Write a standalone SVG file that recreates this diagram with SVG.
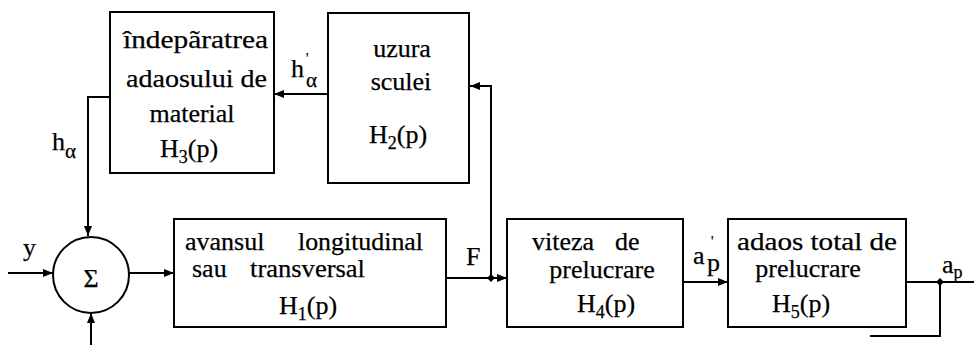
<svg xmlns="http://www.w3.org/2000/svg" width="974" height="345" viewBox="0 0 974 345">
  <style>
    .box { fill: #fff; stroke: #000; stroke-width: 2; }
    .wire { fill: none; stroke: #000; stroke-width: 2; }
    .t { font-family: "Liberation Serif", "Times New Roman", serif; font-size: 26px; fill: #000; stroke: #000; stroke-width: 0.25; }
    .sub { font-size: 18px; }
    .lbl { font-family: "Liberation Serif", "Times New Roman", serif; font-size: 26px; fill: #000; stroke: #000; stroke-width: 0.25; }
    .lsub { font-size: 21px; }
    .prime { font-size: 14px; }
  </style>
  <defs>
    <marker id="arr" viewBox="0 0 10 8" refX="10" refY="4" markerWidth="10" markerHeight="8" markerUnits="userSpaceOnUse" orient="auto">
      <path d="M0,0 L10,4 L0,8 Z" fill="#000"/>
    </marker>
  </defs>
  <rect width="974" height="345" fill="#fff"/>

  <!-- connectors -->
  <g id="connectors">
    <!-- h'α : H2 -> H3 -->
    <line class="wire" x1="328" y1="94" x2="274" y2="94" marker-end="url(#arr)"/>
    <!-- hα : H3 -> summing junction (top) -->
    <polyline class="wire" points="110,97 88,97 88,236" marker-end="url(#arr)"/>
    <!-- y input -->
    <line class="wire" x1="8" y1="273" x2="53" y2="273" marker-end="url(#arr)"/>
    <!-- bottom input -->
    <line class="wire" x1="91" y1="345" x2="91" y2="313" marker-end="url(#arr)"/>
    <!-- sum -> H1 -->
    <line class="wire" x1="129" y1="273" x2="174" y2="273" marker-end="url(#arr)"/>
    <!-- F : H1 -> H4 -->
    <line class="wire" x1="446" y1="278" x2="507" y2="278" marker-end="url(#arr)"/>
    <!-- F branch -> H2 -->
    <polyline class="wire" points="491,278 491,86 470,86" marker-end="url(#arr)"/>
    <!-- a'p : H4 -> H5 -->
    <line class="wire" x1="683" y1="282" x2="728" y2="282" marker-end="url(#arr)"/>
    <!-- ap output -->
    <line class="wire" x1="906" y1="282" x2="974" y2="282"/>
    <polyline class="wire" points="940,282 940,336 870,336"/>
    <!-- junction dots -->
    <path d="M491,274 L495,278 L491,282 L487,278 Z" fill="#000"/>
    <path d="M940,278 L944,282 L940,286 L936,282 Z" fill="#000"/>
    <!-- signal labels -->
    <text class="lbl" x="23" y="256">y</text>
    <text class="lbl" x="52" y="150">h<tspan class="lsub" dy="8">α</tspan></text>
    <text class="lbl" x="291" y="77">h</text>
    <text class="lbl prime" x="306" y="63">'</text>
    <text class="lbl lsub" x="306" y="87">α</text>
    <text class="lbl" x="466" y="265">F</text>
    <text class="lbl" x="693" y="264">a</text>
    <text class="lbl prime" x="711" y="246">'</text>
    <text class="lbl sub" x="707" y="271">p</text>
    <text class="lbl" x="942" y="273">a<tspan class="sub" dy="5">p</tspan></text>
  </g>

  <!-- summing junction -->
  <g id="sum">
    <circle cx="91" cy="275" r="38" fill="#fff" stroke="#000" stroke-width="2"/>
    <text class="t" x="91" y="287" text-anchor="middle" font-size="30">Σ</text>
  </g>

  <!-- H3 -->
  <g id="h3">
    <rect class="box" x="110" y="12" width="164" height="161"/>
    <text class="t" x="123" y="48" textLength="145" lengthAdjust="spacingAndGlyphs">îndepãratrea</text>
    <text class="t" x="126" y="87" textLength="141" lengthAdjust="spacingAndGlyphs">adaosului de</text>
    <text class="t" x="192" y="122" text-anchor="middle">material</text>
    <text class="t" x="160" y="157">H<tspan class="sub" dy="6">3</tspan><tspan dy="-6">(p)</tspan></text>
  </g>

  <!-- H2 -->
  <g id="h2">
    <rect class="box" x="328" y="13" width="141" height="170"/>
    <text class="t" x="402" y="57" text-anchor="middle">uzura</text>
    <text class="t" x="401" y="90" text-anchor="middle">sculei</text>
    <text class="t" x="369" y="143">H<tspan class="sub" dy="6">2</tspan><tspan dy="-6">(p)</tspan></text>
  </g>

  <!-- H1 -->
  <g id="h1">
    <rect class="box" x="174" y="219" width="272" height="108"/>
    <text class="t" x="185" y="250">avansul</text>
    <text class="t" x="298" y="250" textLength="125" lengthAdjust="spacingAndGlyphs">longitudinal</text>
    <text class="t" x="192" y="277">sau</text>
    <text class="t" x="250" y="277" textLength="115" lengthAdjust="spacingAndGlyphs">transversal</text>
    <text class="t" x="279" y="314">H<tspan class="sub" dy="6">1</tspan><tspan dy="-6">(p)</tspan></text>
  </g>

  <!-- H4 -->
  <g id="h4">
    <rect class="box" x="507" y="219" width="176" height="108"/>
    <text class="t" x="532" y="250">viteza</text>
    <text class="t" x="615" y="250">de</text>
    <text class="t" x="602" y="278" text-anchor="middle">prelucrare</text>
    <text class="t" x="577" y="312">H<tspan class="sub" dy="6">4</tspan><tspan dy="-6">(p)</tspan></text>
  </g>

  <!-- H5 -->
  <g id="h5">
    <rect class="box" x="728" y="219" width="178" height="108"/>
    <text class="t" x="737" y="250" textLength="160" lengthAdjust="spacingAndGlyphs">adaos total de</text>
    <text class="t" x="808" y="277" text-anchor="middle">prelucrare</text>
    <text class="t" x="772" y="312">H<tspan class="sub" dy="6">5</tspan><tspan dy="-6">(p)</tspan></text>
  </g>
</svg>
